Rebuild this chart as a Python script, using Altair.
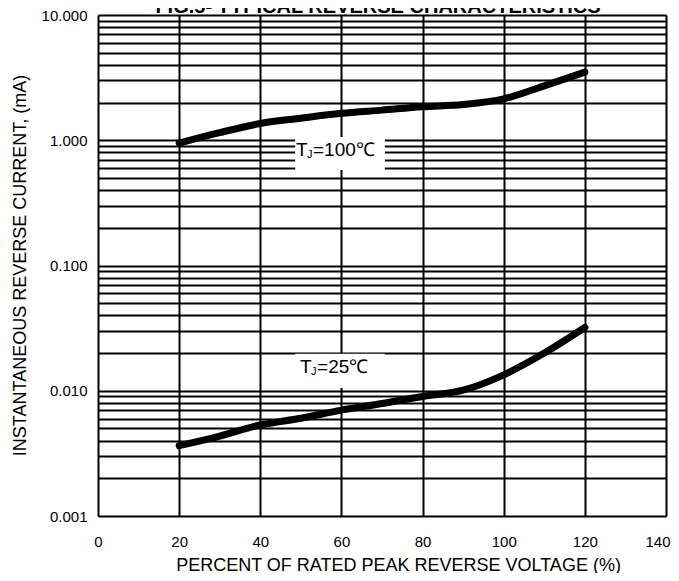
import altair as alt
import pandas as pd

# ---- data ----
pct = [20, 30, 40, 50, 60, 70, 80, 90, 100, 110, 120]
i_100 = [0.95, 1.15, 1.36, 1.50, 1.64, 1.74, 1.85, 1.93, 2.14, 2.72, 3.5]
i_25 = [0.00364, 0.00435, 0.00533, 0.00603, 0.0070, 0.0079, 0.0090, 0.0101, 0.0134, 0.020, 0.032]

label_x = [48.8, 49.8]
label_y = [0.755, 0.0138]
label_main = ["T", "T"]
label_sub = ["J", "J"]
label_rest = ["=100℃", "=25℃"]
box_x = [48.6, 48.6]
box_x2 = [70.7, 70.7]
box_y = [0.58, 0.0105]
box_y2 = [1.06, 0.0197]

x_ticks = [0, 20, 40, 60, 80, 100, 120, 140]
decades = [0.001, 0.01, 0.1, 1, 10]
y_grid = [m * d for d in decades[:-1] for m in range(1, 10)] + [10]

chart_title = ["FIG.5- TYPICAL REVERSE CHARACTERISTICS"]

FONT = "Liberation Sans"

curves = pd.DataFrame(
    {"x": pct * 2, "y": i_100 + i_25, "s": ["100"] * len(pct) + ["25"] * len(pct)}
)
labels = pd.DataFrame(
    {"x": label_x, "y": label_y, "t": label_main, "j": label_sub, "r": label_rest}
)
boxes = pd.DataFrame({"x": box_x, "x2": box_x2, "y": box_y, "y2": box_y2})
title_df = pd.DataFrame({"t": chart_title})

x_scale = alt.Scale(domain=[0, 140], nice=False, zero=False)
y_scale = alt.Scale(type="log", domain=[0.001, 10], nice=False)

x_axis = alt.Axis(
    values=x_ticks, format="d", grid=True, gridColor="black", gridWidth=2, gridOpacity=1,
    domain=False, ticks=False, labelFont=FONT, labelFontSize=15, labelColor="black",
    labelBaseline="alphabetic", labelPadding=30, labelFlush=False, labelOverlap=False,
    labelAlign={"expr": "datum.value == 140 ? 'right' : 'center'"},
    labelOffset={"expr": "datum.value == 140 ? 4 : 0"},
    title="PERCENT OF RATED PEAK REVERSE VOLTAGE (%)", titleFont=FONT, titleFontSize=18,
    titleFontWeight="normal", titleColor="black", titleX=300, titleY=54,
    titleBaseline="alphabetic", titleAlign="center",
)
y_axis = alt.Axis(
    values=y_grid, grid=True, gridColor="black", gridWidth=2, gridOpacity=1,
    domain=False, ticks=False, labelFont=FONT, labelFontSize=15, labelColor="black",
    labelPadding=11, labelOverlap=False, labelFlush=False,
    labelExpr="indexof([0.001,0.01,0.1,1,10], datum.value) >= 0 ? format(datum.value, '.3f') : ''",
    title="INSTANTANEOUS REVERSE CURRENT, (mA)", titleFont=FONT, titleFontSize=18,
    titleFontWeight="normal", titleColor="black", titleAngle=270, titleX=-73, titleY=250,
    titleBaseline="alphabetic", titleAlign="center",
)

rects = alt.Chart(boxes).mark_rect(color="white").encode(
    x=alt.X("x:Q", scale=x_scale, axis=x_axis),
    x2="x2:Q",
    y=alt.Y("y:Q", scale=y_scale, axis=y_axis),
    y2="y2:Q",
)

base_txt = alt.Chart(labels).encode(
    x=alt.X("x:Q", scale=x_scale, axis=x_axis),
    y=alt.Y("y:Q", scale=y_scale, axis=y_axis),
)
t_main = base_txt.mark_text(font=FONT, fontSize=19, align="left", baseline="alphabetic", color="black").encode(text="t:N")
t_sub = base_txt.mark_text(font=FONT, fontSize=11, align="left", baseline="alphabetic", color="black", dx=11, dy=2).encode(text="j:N")
t_rest = base_txt.mark_text(font=FONT, fontSize=19, align="left", baseline="alphabetic", color="black", dx=17).encode(text="r:N")

lines = alt.Chart(curves).mark_line(
    color="black", strokeWidth=7, interpolate="monotone", strokeCap="round", strokeJoin="round"
).encode(
    x=alt.X("x:Q", scale=x_scale, axis=x_axis),
    y=alt.Y("y:Q", scale=y_scale, axis=y_axis),
    detail="s:N",
)

title_mark = alt.Chart(title_df).mark_text(
    font=FONT, fontSize=20, fontWeight="bold", color="black", align="center", baseline="alphabetic"
).encode(text="t:N", x=alt.value(280), y=alt.value(-2))

chart = alt.layer(rects, t_main, t_sub, t_rest, lines, title_mark).properties(
    width=568,
    height=501,
    autosize=alt.AutoSizeParams(type="none"),
    padding={"left": 90, "top": 7, "right": 5, "bottom": 57},
).configure_view(stroke="black", strokeWidth=2).configure(background="white")

chart.save("out.html", embed_options={"renderer": "svg", "actions": False})
